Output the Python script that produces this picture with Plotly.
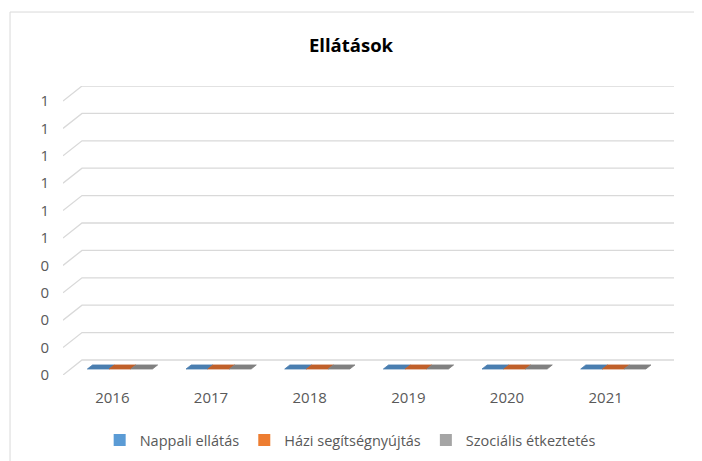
import plotly.graph_objects as go

# ---- data ----
categories = ["2016", "2017", "2018", "2019", "2020", "2021"]
series_names = ["Nappali ellátás", "Házi segítségnyújtás", "Szociális étkeztetés"]
nappali = [0, 0, 0, 0, 0, 0]
hazi = [0, 0, 0, 0, 0, 0]
szocialis = [0, 0, 0, 0, 0, 0]
y_ticks = [0.0, 0.1, 0.2, 0.3, 0.4, 0.5, 0.6, 0.7, 0.8, 0.9, 1.0]
y_ticktext = ["0", "0", "0", "0", "0", "1", "1", "1", "1", "1", "1"]

legend_colors = ["#5B9BD5", "#ED7D31", "#A5A5A5"]
face_colors = ["#4A7EB0", "#C0602A", "#808080"]

# ---- pseudo 3D projection parameters (depth offset in axis units) ----
DX = 0.1925   # horizontal shift from front to back plane
DY = 0.0547   # vertical shift from front to back plane
BAR_FRAC = 0.66
D_FRONT, D_BACK = 0.4, 0.67
GRID = "#D9D9D9"

fig = go.Figure()

# gridlines (side wall slant + back wall horizontal)
for v in y_ticks:
    fig.add_trace(go.Scatter(
        x=[-0.5, -0.5 + DX, len(categories) - 0.5 + DX],
        y=[v, v + DY, v + DY],
        mode="lines", line=dict(color=GRID, width=1.3),
        hoverinfo="skip", showlegend=False, cliponaxis=False))

all_series = [nappali, hazi, szocialis]
n = len(all_series)
w = BAR_FRAC / n
for s, vals in enumerate(all_series):
    # top faces of the (flat) 3D columns
    xs, ys = [], []
    for i, v in enumerate(vals):
        x0 = i - BAR_FRAC / 2 + s * w
        x1 = x0 + w
        xs += [x0 + D_FRONT * DX, x1 + D_FRONT * DX, x1 + D_BACK * DX, x0 + D_BACK * DX, x0 + D_FRONT * DX, None]
        ys += [v + D_FRONT * DY, v + D_FRONT * DY, v + D_BACK * DY, v + D_BACK * DY, v + D_FRONT * DY, None]
    fig.add_trace(go.Scatter(
        x=xs, y=ys, mode="lines", fill="toself", fillcolor=face_colors[s],
        line=dict(color=face_colors[s], width=0.8),
        hoverinfo="skip", showlegend=False, cliponaxis=False))
    # actual columns (zero height) carrying the legend entries
    fig.add_trace(go.Bar(
        x=list(range(len(categories))), y=vals, name=series_names[s],
        marker=dict(color=legend_colors[s], line=dict(width=0)),
        showlegend=True))

fig.update_layout(
    width=702, height=461, autosize=False,
    margin=dict(l=55, r=36, t=78, b=94),
    paper_bgcolor="white", plot_bgcolor="white",
    font=dict(family="Open Sans, sans-serif", size=14, color="#595959"),
    title=dict(text="<b>Ellátások</b>", x=0.4886, xanchor="center", y=0.918, yanchor="middle",
               font=dict(family="Open Sans, sans-serif", size=18.5, color="#000000")),
    barmode="group",
    showlegend=True,
    legend=dict(orientation="h", x=0.47, xanchor="center", y=-0.225, yanchor="middle",
                font=dict(size=14.5, color="#595959"), itemwidth=30, traceorder="normal"),
    shapes=[dict(type="rect", xref="paper", yref="paper", x0=-0.0867, x1=1.2,
                 y0=-0.4, y1=1.256, line=dict(color="#D9D9D9", width=1), layer="below")],
)
fig.update_xaxes(range=[-0.5, len(categories) - 0.5 + DX], tickvals=list(range(len(categories))),
                 ticktext=categories, showgrid=False, zeroline=False, showline=False,
                 ticks="", ticklabelstandoff=12, tickfont=dict(size=15, color="#595959"))
fig.update_yaxes(range=[0, 1 + DY], tickvals=y_ticks, ticktext=y_ticktext,
                 showgrid=False, zeroline=False, showline=False, ticks="",
                 ticklabelstandoff=13, tickfont=dict(size=15, color="#595959"))

fig.write_html("out.html")
